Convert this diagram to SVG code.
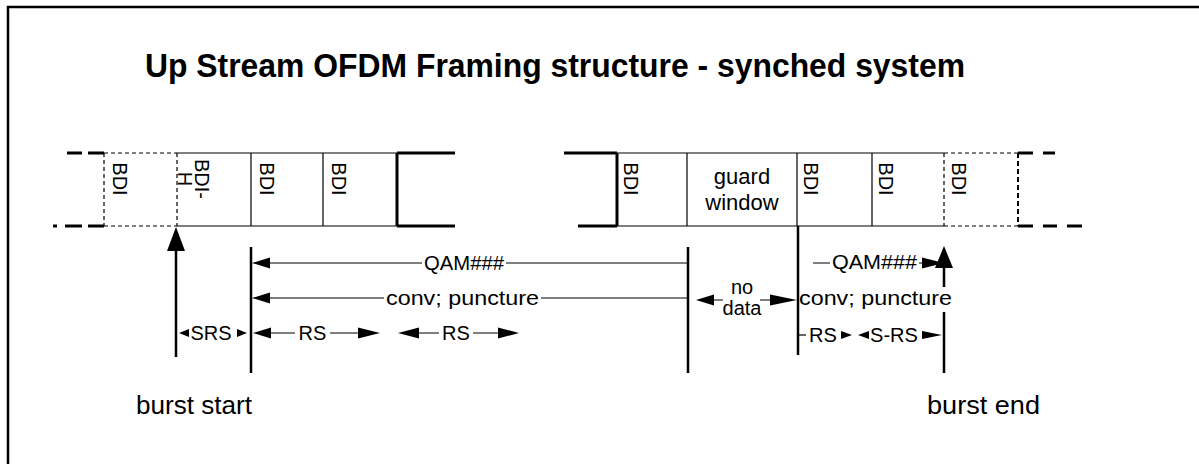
<svg xmlns="http://www.w3.org/2000/svg" width="1199" height="464" viewBox="0 0 1199 464">
<defs>
<style>
text{font-family:"Liberation Sans",Arial,sans-serif;fill:#000}
.t{font-size:20px}
.g{font-size:22px}
.c{text-anchor:middle}
.title{font-size:33px;font-weight:bold;text-anchor:middle}
.burst{font-size:25px}
.thin{stroke:#000;stroke-width:1.2;fill:none}
.thick{stroke:#000;stroke-width:3;fill:none}
.dash{stroke:#000;stroke-width:1.2;fill:none;stroke-dasharray:4 3}
.vbar{stroke:#000;stroke-width:2.5;fill:none}
.ah{fill:#000;stroke:none}
</style>
</defs>
<rect width="1199" height="464" fill="#fff"/>
<path d="M8,470 V7 H1205" stroke="#000" stroke-width="2.5" fill="none"/>
<text class="title" x="555" y="77" textLength="820" lengthAdjust="spacingAndGlyphs">Up Stream OFDM Framing structure - synched system</text>

<g id="frame-left">
<path class="thick" d="M67,153 H82 M88,153 H104 M53,226 H57 M65,226 H82 M88,226 H104"/>
<path class="dash" d="M104,153 H177 M104,226 H177 M104,153 V226 M177,153 V226"/>
<path class="thin" d="M177,153 H397 M177,226 H397 M251,153 V226 M323,153 V226"/>
<path class="thick" d="M397,153 H455 M397,226 H455 M397,153 V226"/>
</g>
<g id="cell-bdi-1"><text class="t c" transform="translate(113,179) rotate(90)">BDI</text></g>
<g id="cell-bdi-h"><text class="t c" transform="translate(195,179) rotate(90)"><tspan x="0" y="0">BDI-</tspan><tspan x="0" y="17">H</tspan></text></g>
<g id="cell-bdi-2"><text class="t c" transform="translate(260,179) rotate(90)">BDI</text></g>
<g id="cell-bdi-3"><text class="t c" transform="translate(332,179) rotate(90)">BDI</text></g>

<g id="frame-right">
<path class="thick" d="M564,153 H617 M578,226 H617 M617,153 V226"/>
<path class="thin" d="M617,153 H944 M617,226 H944 M687,153 V226 M797,153 V226 M872,153 V226"/>
<path class="dash" d="M944,153 H1018 M944,226 H1018 M944,153 V226"/>
<path stroke="#000" stroke-width="2" stroke-dasharray="5 3" fill="none" d="M1018,153 V226"/>
<path class="thick" d="M1018,153 H1033 M1043,153 H1055 M1018,226 H1033 M1043,226 H1057 M1067,226 H1082"/>
</g>
<g id="cell-bdi-4"><text class="t c" transform="translate(624,179) rotate(90)">BDI</text></g>
<g id="cell-guard"><text class="g c" x="742" y="184">guard</text><text class="g c" x="742" y="210">window</text></g>
<g id="cell-bdi-5"><text class="t c" transform="translate(804,179) rotate(90)">BDI</text></g>
<g id="cell-bdi-6"><text class="t c" transform="translate(879,179) rotate(90)">BDI</text></g>
<g id="cell-bdi-7"><text class="t c" transform="translate(952,179) rotate(90)">BDI</text></g>

<g id="connectors">
<path class="vbar" d="M176,250 V357"/>
<polygon class="ah" points="176,227 167,251 185,251"/>
<path class="vbar" d="M251,247 V373"/>
<path class="vbar" d="M688,247 V373"/>
<path class="vbar" d="M798,226 V355"/>
<path class="vbar" d="M944,265 V287 M944,312 V373"/>
<polygon class="ah" points="944,246 935,268 953,268"/>

<path class="thin" d="M268,263 H422 M506,263 H688"/>
<polygon class="ah" points="252,263 270,257.5 270,268.5"/>
<path class="thin" d="M268,298 H384 M541,298 H688"/>
<polygon class="ah" points="252,298 270,292.5 270,303.5"/>

<polygon class="ah" points="179,333 189,329 189,337"/>
<polygon class="ah" points="247,333 237,329 237,337"/>
<polygon class="ah" points="253,333 271,327.5 271,338.5"/>
<path class="thin" d="M270,333 H295 M330,333 H360"/>
<polygon class="ah" points="380,333 358,327.5 358,338.5"/>
<polygon class="ah" points="398,333 419,327.5 419,338.5"/>
<path class="thin" d="M418,333 H439 M473,333 H500"/>
<polygon class="ah" points="519,333 498,327.5 498,338.5"/>

<polygon class="ah" points="696,300 714,294.5 714,305.5"/>
<path class="thin" d="M713,300 H723 M760,300 H771"/>
<polygon class="ah" points="797,300 770,294.5 770,305.5"/>

<path class="thin" d="M813,263 H830 M919,263 H925"/>
<polygon class="ah" points="944,263 922,257.5 922,268.5"/>

<path class="thin" d="M798,335 H806"/>
<polygon class="ah" points="852,335 841,331 841,339"/>
<polygon class="ah" points="858,335 869,331 869,339"/>
<polygon class="ah" points="942,335 922,331 922,339"/>
</g>

<g id="labels">
<text class="t c" x="464" y="270" textLength="80" lengthAdjust="spacingAndGlyphs">QAM###</text>
<text class="t c" x="462.5" y="305" textLength="153" lengthAdjust="spacingAndGlyphs">conv; puncture</text>
<text class="t c" x="211" y="340">SRS</text>
<text class="t c" x="312.5" y="340">RS</text>
<text class="t c" x="456" y="340">RS</text>
<text class="t c" x="742" y="294">no</text>
<text class="t c" x="742" y="315">data</text>
<text class="t c" x="874.5" y="269" textLength="85" lengthAdjust="spacingAndGlyphs">QAM###</text>
<text class="t c" x="875.5" y="305" textLength="153" lengthAdjust="spacingAndGlyphs">conv; puncture</text>
<text class="t c" x="823" y="342">RS</text>
<text class="t c" x="894" y="342">S-RS</text>
<text class="burst" x="136" y="414" textLength="116" lengthAdjust="spacingAndGlyphs">burst start</text>
<text class="burst" x="927" y="414" textLength="113" lengthAdjust="spacingAndGlyphs">burst end</text>
</g>
</svg>
